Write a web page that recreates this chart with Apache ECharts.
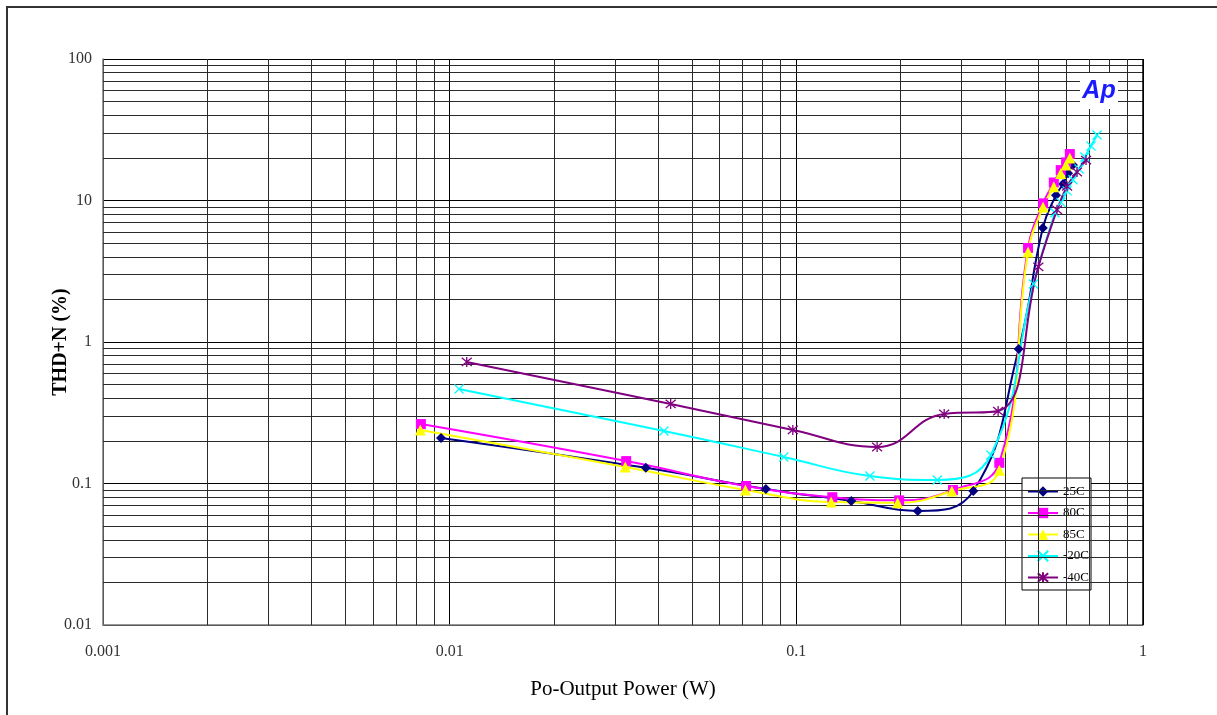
<!DOCTYPE html>
<html>
<head>
<meta charset="utf-8">
<script src="https://cdn.jsdelivr.net/npm/echarts@6/dist/echarts.min.js"></script>
<style>
html,body{margin:0;padding:0;background:#fff;}
#c{width:1217px;height:715px;}
</style>
</head>
<body>
<div id="c"></div>
<script>
// ---- data ----
const xTickLabels = ['0.001', '0.01', '0.1', '1'];
const yTickLabels = ['0.01', '0.1', '1', '10', '100'];
const seriesNames = ['25C', '80C', '85C', '-20C', '-40C'];

const t25x = [0.00944, 0.0368, 0.0817, 0.144, 0.224, 0.324, 0.438, 0.514, 0.561, 0.588, 0.608, 0.628];
const t25y = [0.21, 0.129, 0.0915, 0.0752, 0.064, 0.0885, 0.893, 6.39, 10.9, 13.1, 15.6, 17.8];

const t80x = [0.00826, 0.0323, 0.0716, 0.127, 0.198, 0.283, 0.385, 0.466, 0.515, 0.553, 0.579, 0.600, 0.615];
const t80y = [0.263, 0.144, 0.096, 0.080, 0.076, 0.090, 0.14, 4.62, 9.55, 13.4, 16.4, 18.6, 21.3];

const t85x = [0.00823, 0.0321, 0.0713, 0.126, 0.196, 0.281, 0.385, 0.466, 0.515, 0.553, 0.579, 0.600, 0.615];
const t85y = [0.239, 0.131, 0.090, 0.074, 0.073, 0.0885, 0.124, 4.33, 9.0, 12.5, 15.5, 17.8, 20.0];

const m20x = [0.01064, 0.0415, 0.092, 0.163, 0.255, 0.364, 0.483, 0.557, 0.580, 0.604, 0.628, 0.654, 0.680, 0.708, 0.737];
const m20y = [0.466, 0.235, 0.154, 0.113, 0.106, 0.159, 2.57, 8.2, 9.7, 11.7, 14.0, 16.7, 20.3, 24.3, 29.0];

const m40x = [0.0112, 0.0434, 0.0977, 0.171, 0.267, 0.382, 0.499, 0.565, 0.604, 0.645, 0.685];
const m40y = [0.723, 0.365, 0.239, 0.181, 0.31, 0.325, 3.4, 8.6, 12.6, 15.9, 19.3];

// minor gridline multipliers within each decade
const minorMult = [2, 3, 4, 5, 6, 7, 8, 9];
const xDecades = [0.001, 0.01, 0.1];
const yDecades = [0.01, 0.1, 1, 10];
const xRange = [0.001, 1];
const yRange = [0.01, 100];

// ---- build ----
const pair = (xs, ys) => xs.map((x, i) => [x, ys[i]]);
const serif = '"Liberation Serif", "DejaVu Serif", serif';

const minorLines = [];
xDecades.forEach(d => minorMult.forEach(m => {
  const v = +(d * m).toPrecision(3);
  minorLines.push([{ coord: [v, yRange[0]] }, { coord: [v, yRange[1]] }]);
}));
yDecades.forEach(d => minorMult.forEach(m => {
  const v = +(d * m).toPrecision(3);
  minorLines.push([{ coord: [xRange[0], v] }, { coord: [xRange[1], v] }]);
}));

const xPath = 'path://M0,0L10,10M10,0L0,10';
const starPath = 'path://M0,0L10,10M10,0L0,10M5,-1L5,11';

function mkSeries(name, data, color, symbol, size, stroke) {
  return {
    name: name,
    type: 'line',
    data: data,
    smooth: 0.45,
    symbol: symbol,
    symbolSize: size,
    showAllSymbol: true,
    lineStyle: { color: color, width: 2 },
    itemStyle: stroke
      ? { color: 'rgba(0,0,0,0)', borderColor: color, borderWidth: 1.3 }
      : { color: color, borderWidth: 0 },
    z: 5
  };
}

const chart = echarts.init(document.getElementById('c'), null, { renderer: 'canvas' });
chart.setOption({
  animation: false,
  backgroundColor: '#fff',
  grid: { left: 103, right: 74, top: 59, bottom: 90, show: false },
  xAxis: {
    type: 'log', logBase: 10, min: xRange[0], max: xRange[1], interval: 1,
    name: 'Po-Output Power (W)', nameLocation: 'middle', nameGap: 54,
    nameMoveOverlap: false,
    nameTextStyle: { fontFamily: serif, fontSize: 21, color: '#000' },
    axisLine: { show: true, lineStyle: { color: '#777', width: 1.5 } },
    axisTick: { show: false },
    axisLabel: {
      margin: 19, fontFamily: serif, fontSize: 16, color: '#333',
      formatter: (v) => xTickLabels[Math.round(Math.log10(v)) + 3]
    },
    splitLine: { show: true, lineStyle: { color: '#000', width: 1 } }
  },
  yAxis: {
    type: 'log', logBase: 10, min: yRange[0], max: yRange[1], interval: 1,
    name: 'THD+N (%)', nameLocation: 'middle', nameGap: 32,
    nameMoveOverlap: false,
    nameTextStyle: { fontFamily: serif, fontSize: 20, fontWeight: 'bold', color: '#000' },
    axisLine: { show: true, lineStyle: { color: '#777', width: 1.5 } },
    axisTick: { show: false },
    axisLabel: {
      margin: 11, fontFamily: serif, fontSize: 16, color: '#333',
      formatter: (v) => yTickLabels[Math.round(Math.log10(v)) + 2]
    },
    splitLine: { show: true, lineStyle: { color: '#000', width: 1 } }
  },
  legend: {
    orient: 'vertical',
    left: 1022, top: 478,
    padding: [7, 2, 6, 5],
    itemGap: 8.5,
    itemWidth: 30, itemHeight: 13,
    backgroundColor: '#fff',
    borderColor: '#000', borderWidth: 1,
    textStyle: { fontFamily: serif, fontSize: 13, color: '#000' },
    data: seriesNames
  },
  series: [
    {
      name: 'grid-minor', type: 'line', data: [], silent: true, z: 1,
      markLine: {
        silent: true, symbol: 'none', animation: false,
        label: { show: false },
        lineStyle: { type: 'solid', color: '#2a2a2a', width: 1 },
        data: minorLines
      }
    },
    mkSeries('25C', pair(t25x, t25y), '#000080', 'diamond', 10, false),
    mkSeries('80C', pair(t80x, t80y), '#ff00ff', 'rect', 10, false),
    mkSeries('85C', pair(t85x, t85y), '#ffff00', 'triangle', 11, false),
    mkSeries('-20C', pair(m20x, m20y), '#00ffff', xPath, 9, true),
    mkSeries('-40C', pair(m40x, m40y), '#800080', starPath, 10, true)
  ],
  graphic: [
    { type: 'rect', shape: { x: 7, y: 7, width: 1230, height: 730 },
      style: { fill: 'none', stroke: '#333', lineWidth: 2 }, silent: true, z: 100 },
    { type: 'line', shape: { x1: 1143, y1: 59, x2: 1143, y2: 625 },
      style: { stroke: '#000', lineWidth: 1.5 }, z: 50 },
    { type: 'rect', shape: { x: 1080, y: 73, width: 38, height: 36 },
      style: { fill: '#fff' }, z: 60 },
    { type: 'text', x: 1099, y: 91,
      style: { text: 'Ap', fill: '#1a1aff', font: 'italic bold 25px "Liberation Sans", Arial, sans-serif',
        align: 'center', verticalAlign: 'middle' }, z: 61 }
  ]
});
</script>
</body>
</html>
